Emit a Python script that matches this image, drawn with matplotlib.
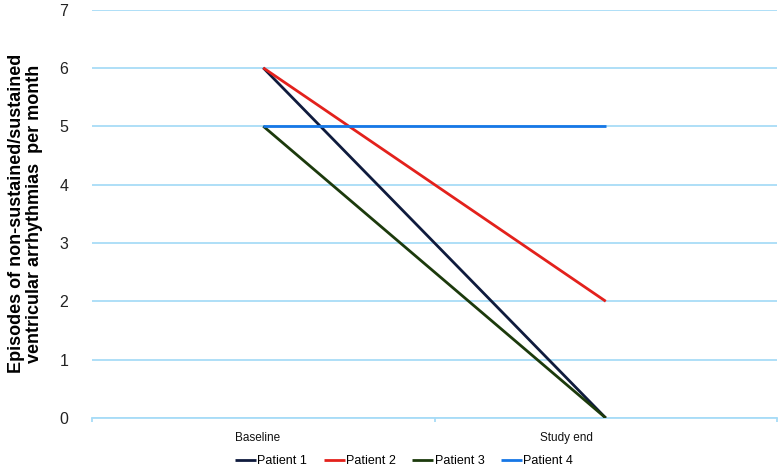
import matplotlib
matplotlib.use("Agg")
import matplotlib.pyplot as plt
import matplotlib.transforms as mtransforms

plt.rcParams['font.family'] = ['Liberation Sans', 'DejaVu Sans']

categories = ["Baseline", "Study end"]
patients = ["Patient 1", "Patient 2", "Patient 3", "Patient 4"]
patient1 = [6, 0]
patient2 = [6, 2]
patient3 = [5, 0]
patient4 = [5, 5]
series = [patient1, patient2, patient3, patient4]
colors = ["#0f1b3d", "#e3211c", "#1c3a0c", "#1677e6"]
yticks = [0, 1, 2, 3, 4, 5, 6, 7]

fig = plt.figure(figsize=(7.78, 4.68), dpi=100)
ax = fig.add_axes([92/778, 1-418/468, (777-92)/778, (418-9.5)/468])

x = list(range(len(categories)))
for name, vals, c in zip(patients, series, colors):
    ax.plot(x, vals, color=c, lw=2.0, label=name, solid_capstyle="butt", zorder=3)

ax.set_xlim(-0.5, len(categories) - 0.5)
ax.set_ylim(0, 7)
ax.set_yticks(yticks)
ax.yaxis.grid(True, color="#a8dcf7", lw=1.3)
ax.set_axisbelow(True)
for s in ["left", "right", "top"]:
    ax.spines[s].set_visible(False)
ax.spines["bottom"].set_color("#a8dcf7")
ax.spines["bottom"].set_linewidth(1.3)
ax.tick_params(axis="y", length=0, pad=17, labelsize=11.5, labelcolor="#222222")

ax.set_xticks(x)
ax.set_xticklabels(categories, fontsize=8.5, color="#111111")
ax.set_xticks([-0.5, 0.5, 1.5], minor=True)
ax.tick_params(axis="x", which="major", length=0, pad=10)
ax.tick_params(axis="x", which="minor", length=3, color="#a8dcf7", width=1.3, direction="out")
# shift labels as in reference
offsets = [-6, -39]
for lab, dx in zip(ax.get_xticklabels(), offsets):
    lab.set_transform(lab.get_transform() + mtransforms.ScaledTranslation(dx/100, 0, fig.dpi_scale_trans))

ax.set_ylabel("Episodes of non-sustained/sustained\nventricular arrhythmias  per month",
              fontsize=13, fontweight="bold", labelpad=12, linespacing=1.05)

leg = fig.legend(loc="center", bbox_to_anchor=(404/778, 1-461/468), ncol=4, frameon=False,
                 fontsize=9, handlelength=1.7, handletextpad=0.1, columnspacing=1.3)

fig.savefig("out.png", dpi=100)
